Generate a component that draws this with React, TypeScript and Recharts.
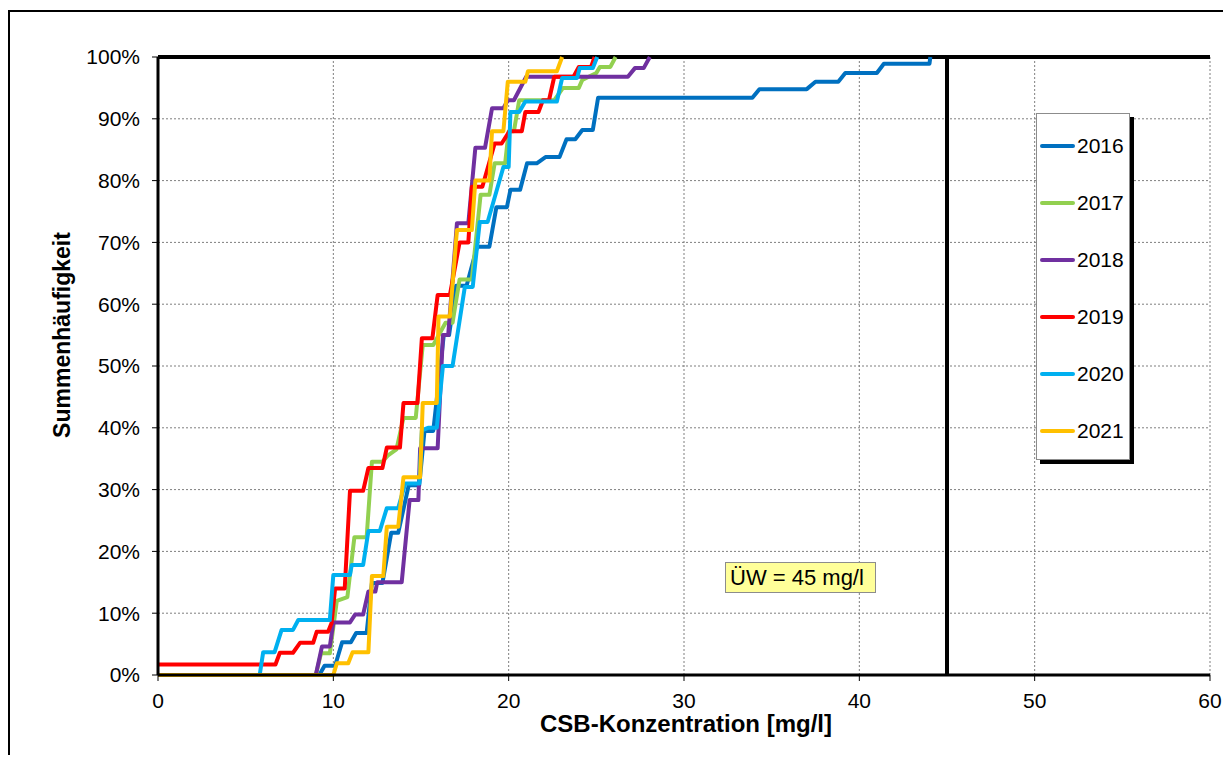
import React from 'react';
import { LineChart, Line, XAxis, YAxis, CartesianGrid, ReferenceLine } from 'recharts';

const years = ['2016', '2017', '2018', '2019', '2020', '2021'];
const colors = ['#0070C0', '#92D050', '#7030A0', '#FF0000', '#00B0F0', '#FFC000'];

const xTicks = [0, 10, 20, 30, 40, 50, 60];
const yTicks = [0, 10, 20, 30, 40, 50, 60, 70, 80, 90, 100];
const limitValue = 45;
const limitLabel = 'ÜW = 45 mg/l';

const s2016: [number, number][] = [
  [0, 0], [9.2, 0], [9.5, 1.5], [10.1, 1.5], [10.5, 5.3], [11.0, 5.3], [11.3, 6.8], [11.9, 6.8],
  [12.2, 14.9], [12.8, 14.9], [13.3, 23], [13.7, 23], [14.3, 30.7], [14.9, 30.7], [15.2, 39.5],
  [15.7, 39.5], [16.3, 55], [16.6, 55], [17.0, 63], [17.6, 63], [18.2, 69.3], [18.9, 69.3],
  [19.3, 75.7], [19.9, 75.7], [20.1, 78.5], [20.65, 78.5], [21.05, 82.8], [21.6, 82.8],
  [22.1, 83.8], [22.9, 83.8], [23.3, 86.7], [23.8, 86.7], [24.2, 88.2], [24.8, 88.2],
  [25.1, 93.4], [33.9, 93.4], [34.3, 94.8], [37.0, 94.8], [37.5, 96], [38.8, 96],
  [39.2, 97.4], [41.0, 97.4], [41.4, 98.9], [44.0, 98.9], [44.05, 100],
];

const s2017: [number, number][] = [
  [0, 0], [9.0, 0], [9.3, 3.5], [9.8, 3.5], [10.2, 12], [10.8, 12.6], [11.2, 22.3], [11.9, 22.3],
  [12.2, 34.5], [12.8, 34.5], [13.1, 35.5], [13.6, 36.5], [14.0, 41.6], [14.7, 41.6],
  [15.1, 53.4], [15.7, 53.4], [16.4, 57], [16.8, 57], [17.2, 64], [17.9, 64], [18.4, 77.7],
  [18.9, 77.7], [19.2, 82.8], [19.8, 82.8], [20.0, 88], [20.3, 88], [20.6, 93], [22.6, 93],
  [23.1, 95], [24.0, 95], [24.2, 96.3], [25.0, 97.4], [25.2, 98.4], [25.8, 98.4], [26.1, 100],
];

const s2018: [number, number][] = [
  [0, 0], [9.0, 0], [9.35, 4.6], [9.8, 4.6], [10.0, 8.5], [10.95, 8.5], [11.25, 9.8], [11.7, 9.8],
  [12.0, 13.5], [12.4, 13.5], [12.5, 15], [13.9, 15], [14.35, 28.3], [14.85, 28.3],
  [14.95, 36.7], [15.95, 36.7], [16.25, 55], [16.55, 55], [17.05, 73.1], [17.7, 73.1],
  [18.1, 85.3], [18.65, 85.3], [19.05, 91.7], [19.7, 91.7], [19.95, 93], [20.3, 93],
  [21.0, 96.8], [26.8, 96.8], [27.2, 98.2], [27.7, 98.2], [28.05, 100],
];

const s2019: [number, number][] = [
  [0, 1.7], [6.7, 1.7], [6.95, 3.6], [7.7, 3.6], [8.1, 5.2], [8.85, 5.2], [9.05, 7], [9.7, 7],
  [9.9, 8.4], [10.1, 14], [10.65, 14], [10.95, 29.8], [11.7, 29.8], [12.0, 33.5], [12.8, 33.5],
  [13.05, 36.8], [13.8, 36.8], [14.0, 44], [14.8, 44], [15.05, 54.5], [15.65, 54.5],
  [15.95, 61.5], [16.65, 61.5], [17.2, 70], [17.7, 70], [17.9, 79], [18.5, 79], [19.2, 86],
  [19.6, 86], [20.05, 88], [20.75, 88], [20.95, 91.1], [21.7, 91.1], [21.95, 93], [22.3, 93],
  [22.6, 96.8], [23.7, 96.8], [24.0, 98.4], [24.7, 98.4], [24.9, 100],
];

const s2020: [number, number][] = [
  [0, 0], [5.8, 0], [6.0, 3.7], [6.65, 3.7], [7.05, 7.3], [7.7, 7.3], [8.0, 8.9], [9.8, 8.9],
  [10.0, 16.2], [10.95, 16.2], [11.05, 17.8], [11.7, 17.8], [12.0, 23.3], [12.65, 23.3],
  [13.05, 27], [13.7, 27], [14.1, 31], [14.9, 31], [15.05, 39.6], [15.4, 40], [15.9, 40],
  [16.25, 50], [16.8, 50], [17.5, 62.8], [17.95, 62.8], [18.35, 73.3], [18.8, 73.3],
  [19.7, 82.2], [20.0, 82.2], [20.1, 91.1], [20.6, 91.1], [20.95, 92.8], [22.75, 92.8],
  [23.05, 96.6], [23.9, 96.6], [24.05, 98.2], [24.8, 98.2], [25.05, 100],
];

const s2021: [number, number][] = [
  [0, 0], [10.0, 0], [10.2, 1.9], [10.85, 1.9], [11.1, 3.7], [12.0, 3.7], [12.2, 16], [12.85, 16],
  [13.05, 24], [13.7, 24], [14.0, 32], [14.95, 32], [15.1, 44], [15.9, 44], [16.0, 58],
  [16.65, 58], [17.05, 72], [17.9, 72], [18.1, 80], [18.9, 80], [19.05, 88], [19.7, 88],
  [19.95, 96], [20.95, 96], [21.1, 97.7], [22.75, 97.7], [23.05, 100],
];

const seriesValues = [s2016, s2017, s2018, s2019, s2020, s2021];

const FONT = '"Liberation Sans", Arial, sans-serif';

export default function App() {
  const series = seriesValues.map((s) => s.map(([x, y]) => ({ x, y })));
  return (
    <div
      style={{
        position: 'relative',
        width: 1223,
        height: 755,
        marginBottom: -8,
        overflow: 'hidden',
        fontFamily: FONT,
        background: '#fff',
      }}
    >
      <div
        style={{
          position: 'absolute',
          left: 0,
          top: 2,
          width: 1220,
          height: 800,
          border: '2px solid #000',
          boxSizing: 'border-box',
        }}
      />
      <div style={{ position: 'absolute', left: 0, top: 0 }}>
        <LineChart
          width={1223}
          height={755}
          margin={{ top: 49, right: 21, bottom: 58, left: 50 }}
        >
          <CartesianGrid stroke="#7f7f7f" strokeDasharray="2 2" strokeWidth={1} />
          <XAxis
            type="number"
            dataKey="x"
            domain={[0, 60]}
            ticks={xTicks}
            interval={0}
            allowDataOverflow
            height={30}
            axisLine={{ stroke: '#000', strokeWidth: 3 }}
            tickLine={{ stroke: '#000' }}
            tickSize={6}
            tickMargin={12}
            tick={{ fill: '#000', fontSize: 21, fontFamily: FONT }}
          />
          <YAxis
            type="number"
            dataKey="y"
            domain={[0, 100]}
            ticks={yTicks}
            interval={0}
            width={100}
            tickFormatter={(v: number) => `${v}%`}
            axisLine={{ stroke: '#000', strokeWidth: 3 }}
            tickLine={{ stroke: '#000' }}
            tickSize={6}
            tickMargin={12}
            tick={{ fill: '#000', fontSize: 21, fontFamily: FONT }}
          />
          <ReferenceLine y={100} stroke="#000" strokeWidth={4} ifOverflow="extendDomain" />
          <ReferenceLine x={limitValue} stroke="#000" strokeWidth={4} />
          {series.map((d, i) => (
            <Line
              key={years[i]}
              data={d}
              dataKey="y"
              name={years[i]}
              type="linear"
              stroke={colors[i]}
              strokeWidth={4}
              strokeLinejoin="round"
              dot={false}
              activeDot={false}
              isAnimationActive={false}
            />
          ))}
        </LineChart>
      </div>
      <div
        style={{
          position: 'absolute',
          left: 54,
          top: 327,
          transform: 'translate(-50%, -50%) rotate(-90deg)',
          fontWeight: 'bold',
          fontSize: 23,
          whiteSpace: 'nowrap',
          color: '#000',
        }}
      >
        Summenhäufigkeit
      </div>
      <div
        style={{
          position: 'absolute',
          left: 678,
          top: 716,
          transform: 'translate(-50%, -50%)',
          fontWeight: 'bold',
          fontSize: 24,
          lineHeight: '22px',
          whiteSpace: 'nowrap',
          color: '#000',
        }}
      >
        CSB-Konzentration [mg/l]
      </div>
      <div
        style={{
          position: 'absolute',
          left: 717,
          top: 554,
          width: 151,
          height: 31,
          background: '#FFFF99',
          border: '1px solid #8c8c8c',
          boxSizing: 'border-box',
          fontSize: 22,
          lineHeight: '29px',
          paddingLeft: 4,
          whiteSpace: 'nowrap',
          color: '#000',
        }}
      >
        {limitLabel}
      </div>
      <div
        style={{
          position: 'absolute',
          left: 1028,
          top: 105,
          width: 94,
          height: 347,
          background: '#fff',
          border: '1px solid #8c8c8c',
          boxShadow: '4px 4px 0 #000',
          boxSizing: 'border-box',
        }}
      >
        {years.map((y, i) => (
          <div
            key={y}
            style={{
              position: 'absolute',
              left: 3,
              top: 32 + i * 57 - 14,
              height: 28,
              display: 'flex',
              alignItems: 'center',
            }}
          >
            <div style={{ width: 35, height: 4, borderRadius: 2, background: colors[i] }} />
            <span style={{ marginLeft: 2, fontSize: 21, color: '#000' }}>{y}</span>
          </div>
        ))}
      </div>
    </div>
  );
}
